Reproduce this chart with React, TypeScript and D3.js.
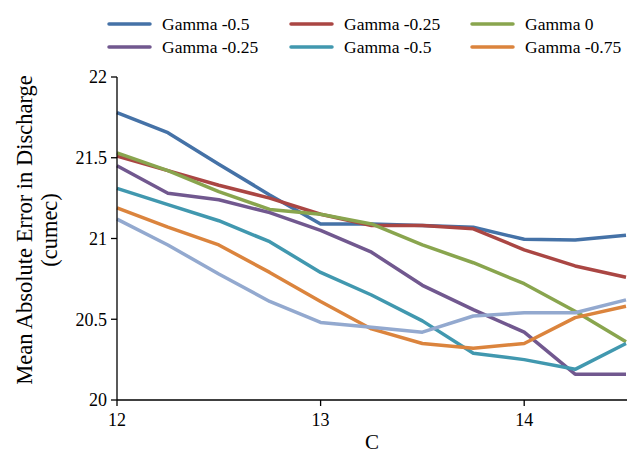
import React from "react";
import * as d3 from "d3";

const cValues = [12, 12.25, 12.5, 12.75, 13, 13.25, 13.5, 13.75, 14, 14.25, 14.5];
const seriesNames = ["Gamma -0.5", "Gamma -0.25", "Gamma 0", "Gamma -0.25", "Gamma -0.5", "Gamma -0.75", ""];
const seriesColors = ["#4572A7", "#AA4643", "#89A54E", "#71588F", "#4198AF", "#DB843D", "#93A9CF"];
const blue = [21.78, 21.655, 21.46, 21.27, 21.09, 21.09, 21.08, 21.07, 20.995, 20.99, 21.02];
const red = [21.51, 21.42, 21.33, 21.25, 21.15, 21.08, 21.08, 21.06, 20.93, 20.83, 20.76];
const green = [21.53, 21.42, 21.29, 21.18, 21.15, 21.09, 20.96, 20.85, 20.72, 20.55, 20.36];
const purple = [21.45, 21.28, 21.24, 21.16, 21.05, 20.915, 20.71, 20.56, 20.42, 20.16, 20.16];
const teal = [21.31, 21.21, 21.11, 20.98, 20.79, 20.65, 20.49, 20.29, 20.25, 20.19, 20.35];
const orange = [21.19, 21.07, 20.96, 20.79, 20.61, 20.44, 20.35, 20.32, 20.35, 20.51, 20.58];
const lightBlue = [21.12, 20.96, 20.78, 20.61, 20.48, 20.45, 20.42, 20.52, 20.54, 20.54, 20.62];
const allSeries = [blue, red, green, purple, teal, orange, lightBlue];
const yTicks = [20, 20.5, 21, 21.5, 22];
const xTicks = [12, 13, 14];

export default function App() {
  const W = 630, H = 455;
  const x = d3.scaleLinear().domain([12, 14.5]).range([117, 626]);
  const y = d3.scaleLinear().domain([20, 22]).range([400, 77]);
  const line = d3.line<number>().x((_, i) => x(cValues[i])).y((d) => y(d));
  const ts = { fontFamily: "Liberation Serif" };
  const legendCols = [109, 291, 472];
  const legendRows = [24, 47];
  return (
    <svg width={W} height={H} style={{ position: "absolute", left: 0, top: 0 }}>
      <rect width={W} height={H} fill="#fff" />
      {allSeries.map((s, i) => (
        <path key={i} d={line(s) || ""} fill="none" stroke={seriesColors[i]} strokeWidth={3.5} strokeLinejoin="round" />
      ))}
      <line x1={117} x2={117} y1={77} y2={400} stroke="#000" strokeWidth={1.3} />
      <line x1={117} x2={627} y1={400} y2={400} stroke="#000" strokeWidth={1.3} />
      {yTicks.map((t) => (
        <g key={t}>
          <line x1={111} x2={117} y1={y(t)} y2={y(t)} stroke="#000" strokeWidth={1.3} />
          <text x={107} y={y(t)} dy="0.35em" textAnchor="end" fontSize={18} style={ts}>{t}</text>
        </g>
      ))}
      {xTicks.map((t) => (
        <g key={t}>
          <line x1={x(t)} x2={x(t)} y1={400} y2={406} stroke="#000" strokeWidth={1.3} />
          <text x={x(t)} y={426} textAnchor="middle" fontSize={18} style={ts}>{t}</text>
        </g>
      ))}
      <text x={372} y={449} textAnchor="middle" fontSize={21} style={ts}>C</text>
      <text transform="translate(32,230) rotate(-90)" textAnchor="middle" fontSize={22.5} style={ts}>Mean Absolute Error in Discharge</text>
      <text transform="translate(57,230) rotate(-90)" textAnchor="middle" fontSize={22.5} style={ts}>(cumec)</text>
      {seriesNames.slice(0, 6).map((n, i) => {
        const cx = legendCols[i % 3];
        const cy = legendRows[Math.floor(i / 3)];
        return (
          <g key={i}>
            <line x1={cx} x2={cx + 41} y1={cy} y2={cy} stroke={seriesColors[i]} strokeWidth={3.5} strokeLinecap="round" />
            <text x={cx + 53} y={cy} dy="0.35em" fontSize={17.5} style={ts}>{n}</text>
          </g>
        );
      })}
    </svg>
  );
}
